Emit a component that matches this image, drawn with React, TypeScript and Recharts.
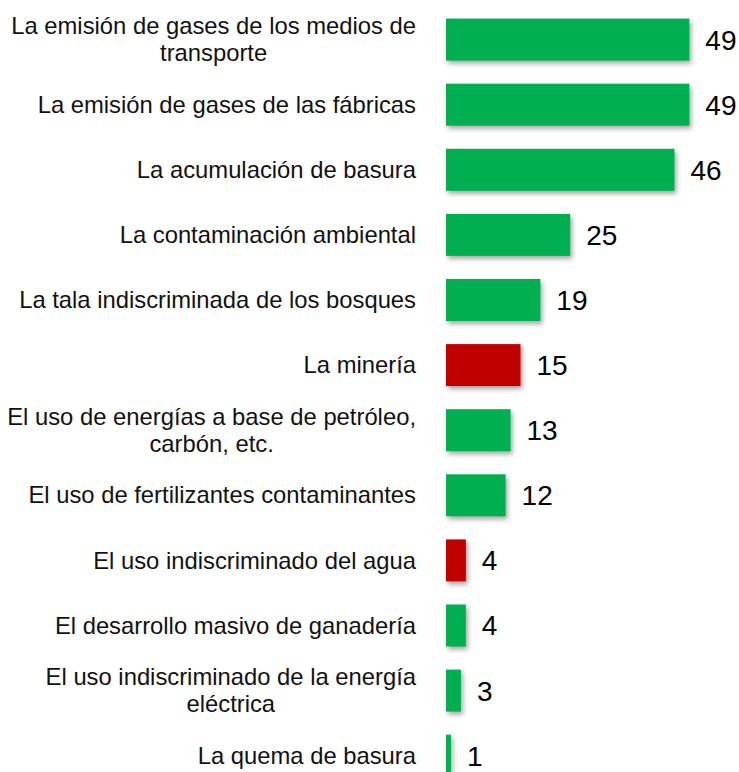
import { BarChart, Bar, XAxis, YAxis, Cell, LabelList } from "recharts";

// Category labels ("\n" marks where the original label wraps)
const categories = [
  "La emisión de gases de los medios de\ntransporte",
  "La emisión de gases de las fábricas",
  "La acumulación de basura",
  "La contaminación ambiental",
  "La tala indiscriminada de los bosques",
  "La minería",
  "El uso de energías a base de petróleo,\ncarbón, etc.",
  "El uso de fertilizantes contaminantes",
  "El uso indiscriminado del agua",
  "El desarrollo masivo de ganadería",
  "El uso indiscriminado de la energía\neléctrica",
  "La quema de basura",
];

const values = [49, 49, 46, 25, 19, 15, 13, 12, 4, 4, 3, 1];

// Categories drawn in red in the original
const highlighted = ["La minería", "El uso indiscriminado del agua"];

const data = categories.map((name, i) => ({ name, value: values[i] }));

const GREEN = "#00B050";
const RED = "#C00000";
const FONT = "'Liberation Sans', Arial, sans-serif";
const LABEL_RIGHT = 416;
const LINE_HEIGHT = 26.7;
const LABEL_SIZE = 23.8;

let ctx: CanvasRenderingContext2D | null = null;
function textWidth(text: string) {
  if (!ctx) ctx = document.createElement("canvas").getContext("2d");
  if (!ctx) return text.length * LABEL_SIZE * 0.5;
  ctx.font = `${LABEL_SIZE}px 'Liberation Sans'`;
  return ctx.measureText(text).width;
}

function CategoryTick(props: any) {
  const { y, payload } = props;
  const lines: string[] = String(payload.value).split("\n");
  // block is right aligned, lines centered within it
  const blockWidth = Math.max(...lines.map(textWidth));
  const cx = LABEL_RIGHT - blockWidth / 2;
  return (
    <g>
      {lines.map((line, i) => (
        <text
          key={i}
          x={lines.length > 1 ? cx : LABEL_RIGHT}
          y={y + (i - (lines.length - 1) / 2) * LINE_HEIGHT}
          dy="0.36em"
          textAnchor={lines.length > 1 ? "middle" : "end"}
          fontSize={LABEL_SIZE}
          fontFamily={FONT}
          fill="#111"
        >
          {line}
        </text>
      ))}
    </g>
  );
}

function ShadowBar(props: any) {
  const { x, y, width, height, fill } = props;
  if (!width || width <= 0) return null;
  return (
    <rect
      x={x}
      y={y}
      width={width}
      height={height}
      fill={fill}
      style={{ filter: "drop-shadow(2px 3px 2.5px rgba(0,0,0,0.35))" }}
    />
  );
}

export default function App() {
  return (
    <div
      style={{
        position: "absolute",
        left: 0,
        top: 0,
        width: 739,
        height: 772,
        overflow: "hidden",
        background: "#fff",
      }}
    >
      <BarChart
        width={739}
        height={790}
        data={data}
        layout="vertical"
        margin={{ top: 6.6, right: 0, bottom: 2.2, left: 0 }}
      >
        <XAxis type="number" domain={[0, 59]} hide />
        <YAxis
          type="category"
          dataKey="name"
          width={446}
          axisLine={false}
          tickLine={false}
          interval={0}
          tick={<CategoryTick />}
        />
        <Bar
          dataKey="value"
          barSize={42}
          shape={<ShadowBar />}
          isAnimationActive={false}
        >
          {data.map((d) => (
            <Cell
              key={d.name}
              fill={highlighted.includes(d.name) ? RED : GREEN}
            />
          ))}
          <LabelList
            dataKey="value"
            position="right"
            offset={16}
            fontSize={28}
            fontFamily={FONT}
            fill="#000"
          />
        </Bar>
      </BarChart>
    </div>
  );
}
